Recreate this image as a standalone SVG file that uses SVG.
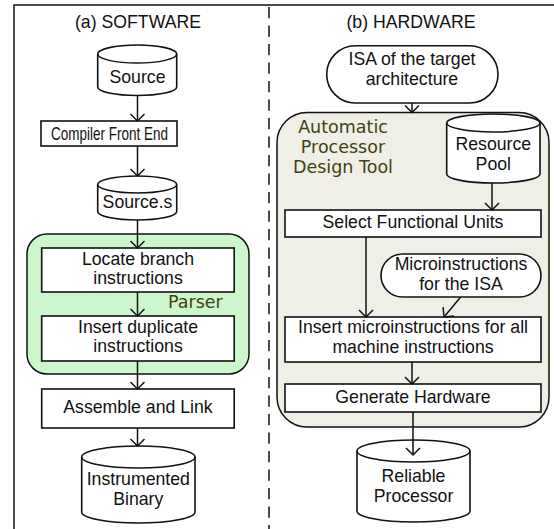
<svg xmlns="http://www.w3.org/2000/svg" width="554" height="529" viewBox="0 0 554 529">
<style>
.t{font-family:"Liberation Sans",Arial,sans-serif;font-size:17.7px;fill:#111;text-anchor:middle}
.v{font-family:"DejaVu Sans",Verdana,sans-serif;font-size:17.5px;fill:#42420f}
.b{fill:#fff;stroke:#111;stroke-width:1.6}
.c{fill:none;stroke:#111;stroke-width:1.5}
</style>
<defs>
<marker id="ah" viewBox="0 0 16 16" refX="14" refY="8" markerWidth="16" markerHeight="16" markerUnits="userSpaceOnUse" orient="auto">
<path d="M7,1 L14,8 L7,15" fill="none" stroke="#111" stroke-width="1.5"/>
</marker>
</defs>
<g id="frame">
<path d="M14,529 L14,5 L554,5" class="c"/>
<line x1="269" y1="7" x2="269" y2="529" stroke="#111" stroke-width="1.5" stroke-dasharray="11.3 7.2"/>
<text class="t" x="138" y="28">(a) SOFTWARE</text>
<text class="t" x="411" y="28">(b) HARDWARE</text>
</g>
<g id="parser">
<rect x="27" y="234" width="222" height="140" rx="20" fill="#ccf7cc" stroke="#111" stroke-width="1.5"/>
<text class="v" x="168" y="308">Parser</text>
</g>
<g id="tool">
<rect x="277" y="112.5" width="272" height="314.5" rx="30" fill="#efefe7" stroke="#111" stroke-width="1.5"/>
<text class="v" x="343" y="133" text-anchor="middle">Automatic</text>
<text class="v" x="343" y="153" text-anchor="middle">Processor</text>
<text class="v" x="343" y="173" text-anchor="middle">Design Tool</text>
</g>
<g id="source">
<path class="b" d="M97.7,54 L97.7,87 A39.5,8.5 0 0 0 176.7,87 L176.7,54 A39.5,9 0 0 0 97.7,54 Z"/>
<path class="c" d="M97.7,54 A39.5,9 0 0 0 176.7,54"/>
<text class="t" x="137.5" y="83">Source</text>
</g>
<g id="compiler">
<rect class="b" x="41" y="121" width="136" height="25"/>
<text class="t" x="109.5" y="139.5" textLength="117" lengthAdjust="spacingAndGlyphs">Compiler Front End</text>
</g>
<g id="sources">
<path class="b" d="M97.7,184.5 L97.7,211.5 A39.5,8.5 0 0 0 176.7,211.5 L176.7,184.5 A39.5,8.5 0 0 0 97.7,184.5 Z"/>
<path class="c" d="M97.7,184.5 A39.5,8.5 0 0 0 176.7,184.5"/>
<text class="t" x="137.5" y="208">Source.s</text>
</g>
<g id="locate">
<rect class="b" x="41.7" y="248" width="192.5" height="44"/>
<text class="t" x="138" y="265">Locate branch</text>
<text class="t" x="138" y="284">instructions</text>
</g>
<g id="insertdup">
<rect class="b" x="41.7" y="316" width="192.5" height="45"/>
<text class="t" x="138" y="333">Insert duplicate</text>
<text class="t" x="138" y="352">instructions</text>
</g>
<g id="assemble">
<rect class="b" x="41.7" y="389" width="192.5" height="39"/>
<text class="t" x="138" y="413">Assemble and Link</text>
</g>
<g id="binary">
<path class="b" d="M81.7,457 L81.7,512 A56.65,11 0 0 0 195,512 L195,457 A56.65,11 0 0 0 81.7,457 Z"/>
<path class="c" d="M81.7,457 A56.65,11 0 0 0 195,457"/>
<text class="t" x="138.3" y="485">Instrumented</text>
<text class="t" x="138.3" y="505">Binary</text>
</g>
<g id="isa">
<rect class="b" x="326.7" y="45.7" width="171.3" height="57.3" rx="28.6"/>
<text class="t" x="412" y="65">ISA of the target</text>
<text class="t" x="412" y="85">architecture</text>
</g>
<g id="pool">
<path class="b" d="M446.7,123 L446.7,174 A46.65,9 0 0 0 540,174 L540,123 A46.65,9 0 0 0 446.7,123 Z"/>
<path class="c" d="M446.7,123 A46.65,9 0 0 0 540,123"/>
<text class="t" x="493.3" y="150">Resource</text>
<text class="t" x="493.3" y="169.5">Pool</text>
</g>
<g id="select">
<rect class="b" x="285" y="210" width="256" height="27"/>
<text class="t" x="413" y="228">Select Functional Units</text>
</g>
<g id="micro">
<rect class="b" x="381" y="254" width="160" height="43" rx="21.5"/>
<text class="t" x="461" y="270">Microinstructions</text>
<text class="t" x="461" y="290">for the ISA</text>
</g>
<g id="insertmicro">
<rect class="b" x="285" y="317" width="256" height="45"/>
<text class="t" x="413" y="333">Insert microinstructions for all</text>
<text class="t" x="413" y="353">machine instructions</text>
</g>
<g id="generate">
<rect class="b" x="285" y="384" width="256" height="28"/>
<text class="t" x="413" y="403">Generate Hardware</text>
</g>
<g id="reliable">
<path class="b" d="M357,451 L357,511 A56.5,11 0 0 0 470,511 L470,451 A56.5,11 0 0 0 357,451 Z"/>
<path class="c" d="M357,451 A56.5,11 0 0 0 470,451"/>
<text class="t" x="413.5" y="482">Reliable</text>
<text class="t" x="413.5" y="502">Processor</text>
</g>
<g id="connectors" class="c" marker-end="url(#ah)">
<line x1="137.5" y1="95.5" x2="137.5" y2="121"/>
<line x1="137.5" y1="146" x2="137.5" y2="176"/>
<line x1="137.5" y1="220" x2="137.5" y2="248"/>
<line x1="137.5" y1="292" x2="137.5" y2="316"/>
<line x1="137.5" y1="361" x2="137.5" y2="389"/>
<line x1="137.5" y1="428" x2="137.5" y2="446"/>
<line x1="412" y1="103" x2="412" y2="112.5"/>
<line x1="492" y1="183" x2="492" y2="210"/>
<line x1="366" y1="237" x2="366" y2="317"/>
<line x1="460.7" y1="297" x2="444" y2="317"/>
<line x1="412" y1="362" x2="412" y2="384"/>
<line x1="413" y1="412" x2="413" y2="455"/>
</g>
</svg>
